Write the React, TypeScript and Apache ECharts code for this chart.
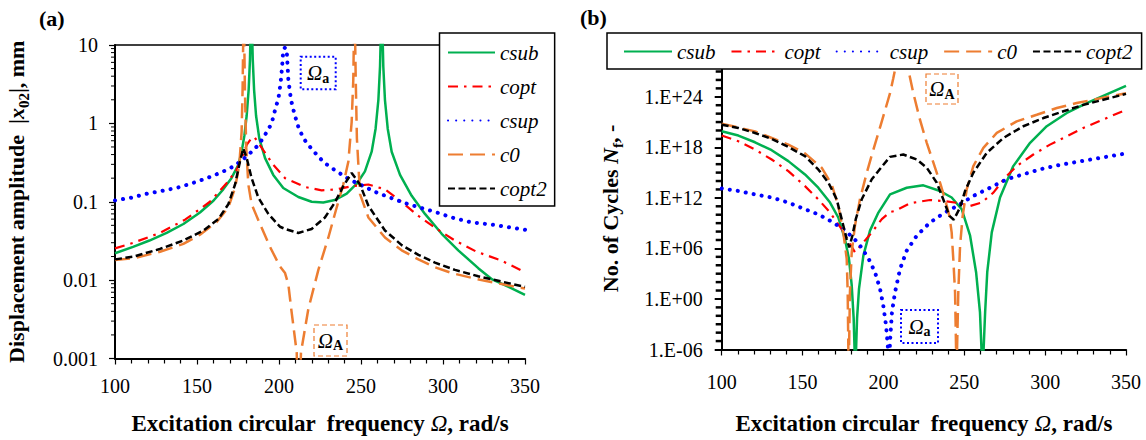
import React, { useEffect, useRef } from "react";
import * as echarts from "echarts";

// ---------- Panel (a): displacement amplitude |x02| (mm) vs Ω ----------
const csubA: [number, number][] = [
  [100, 0.022], [111, 0.0266], [121, 0.032], [131.5, 0.04], [141.7, 0.052], [151.8, 0.073],
  [160, 0.103], [166, 0.144], [171, 0.2], [175.2, 0.296], [177.2, 0.435], [178.9, 0.7],
  [180.3, 1.26], [181.5, 2.7], [182.3, 6.5], [183.1, 40], [184, 6.5], [184.8, 2.7], [186, 1.26],
  [188, 0.64], [191.5, 0.36], [196.5, 0.22], [202.6, 0.15], [211.8, 0.115], [219.9, 0.1],
  [227, 0.098], [234, 0.105], [241.3, 0.127], [247.4, 0.17], [252.4, 0.244], [256.5, 0.435],
  [258.9, 0.855], [260.6, 2.0], [261.6, 5.3], [262.6, 40], [263.6, 5.3], [264.6, 2.0],
  [266.3, 0.855], [268.7, 0.435], [273.8, 0.22], [280.9, 0.119], [289, 0.07], [299.2, 0.039],
  [309.3, 0.024], [321.5, 0.0142], [330, 0.0102], [340, 0.0082], [350, 0.0065],
];
const coptA: [number, number][] = [
  [100, 0.0254], [111.2, 0.03], [127.4, 0.04], [142.7, 0.059], [157.9, 0.1], [169.1, 0.183],
  [174.2, 0.257], [177.2, 0.36], [180.3, 0.53], [183.3, 0.65], [185, 0.67], [190.4, 0.457],
  [196.5, 0.296], [203.7, 0.2], [215.9, 0.154], [226, 0.14], [235.2, 0.144], [244.3, 0.158],
  [254.5, 0.166], [264.6, 0.144], [273.8, 0.103], [285, 0.066], [296.2, 0.045], [307.3, 0.032],
  [320.5, 0.023], [335, 0.018], [350, 0.0126],
];
const csupA: [number, number][] = [
  [100, 0.104], [110.2, 0.113], [120.3, 0.128], [130.5, 0.14], [139.6, 0.154], [149.8, 0.18],
  [159, 0.211], [168, 0.254], [173.2, 0.29], [180.9, 0.388], [187.8, 0.54], [193.1, 0.81],
  [195.5, 1.0], [198, 1.6], [199.6, 2.04], [201, 3.3], [201.9, 5.3], [202.6, 8.6], [203.7, 9.3],
  [204.7, 8.6], [205.7, 3.6], [207.3, 2.0], [209.4, 1.32], [211.8, 0.9], [214.8, 0.65],
  [217.9, 0.53], [224, 0.377], [228, 0.31], [235.2, 0.244], [243.3, 0.19], [249.4, 0.166],
  [258.5, 0.134], [267.7, 0.113], [276.8, 0.096], [287, 0.083], [296.2, 0.073], [305.3, 0.063],
  [316.5, 0.055], [333, 0.05], [350, 0.044],
];
const c0A: [number, number][] = [
  [100, 0.018], [111.2, 0.019], [127.4, 0.023], [141.7, 0.029], [151.8, 0.038], [162, 0.055],
  [169.1, 0.085], [173.2, 0.15], [175.8, 0.296], [177.2, 0.78], [177.8, 2.7], [178.5, 40],
  [179.2, 2.7], [180, 0.5], [181.3, 0.166], [183.3, 0.093], [188.4, 0.052], [194.5, 0.0266],
  [200.6, 0.0149], [203.7, 0.0123], [205.7, 0.0088], [207.7, 0.0039], [210.8, 0.0012],
  [212, 0.0001], [213.4, 0.0012], [217.9, 0.0043], [224, 0.0135], [230.1, 0.035], [235.2, 0.085],
  [239.2, 0.166], [242.3, 0.326], [244.3, 1.04], [245.3, 3.6], [246, 40], [246.8, 3.6],
  [247.5, 0.64], [249.4, 0.125], [254.5, 0.063], [264.6, 0.035], [274.8, 0.024], [285, 0.0184],
  [295.1, 0.0146], [305.3, 0.0123], [322.6, 0.0101], [350, 0.0078],
];
const copt2A: [number, number][] = [
  [100, 0.0184], [111.2, 0.0199], [127.4, 0.025], [141.7, 0.032], [153.9, 0.043], [163, 0.06],
  [169.1, 0.093], [173.2, 0.166], [176.2, 0.326], [178.2, 0.48], [180.3, 0.36], [183.3, 0.2],
  [187.4, 0.113], [193.5, 0.07], [200.6, 0.048], [203.7, 0.045], [211.8, 0.04], [219.9, 0.045],
  [228, 0.063], [234.1, 0.098], [239.2, 0.158], [244.3, 0.233], [249.4, 0.166], [254.5, 0.089],
  [264.6, 0.043], [274.8, 0.028], [285, 0.021], [295.1, 0.0167], [307.3, 0.0135], [321.5, 0.0112],
  [350, 0.0082],
];

// ---------- Panel (b): number of cycles N_f vs Ω ----------
const csubB: [number, number][] = [
  [100, 8e19], [110.3, 2.5e19], [120.6, 4e18], [130.9, 4.6e17], [141.2, 2.3e16], [151.5, 6e14],
  [159.7, 1.6e13], [167, 2.8e11], [172.1, 4.7e9], [176.2, 1.3e7], [178.7, 5.6e4], [180.4, 40],
  [181.6, 5e-3], [182.6, 1e-9], [183.7, 5e-3], [184.9, 16], [187.6, 1.4e5], [191.7, 1.3e8],
  [196.9, 1.8e10], [204.1, 2.6e12], [214.4, 1.6e13], [224.7, 3.1e13], [235, 6.5e12],
  [242.2, 1.1e12], [248.4, 4.5e10], [253.6, 3.2e7], [257.3, 1.5e3], [259.7, 2.8e-2],
  [261.3, 1e-9], [262.9, 2.8e-2], [264.2, 1.5e3], [267, 8e7], [272.1, 1.1e12], [280.3, 5.9e15],
  [290.7, 3.4e18], [301, 3.2e20], [313.4, 1.2e22], [325.7, 1.8e23], [350, 2e25],
];
const coptB: [number, number][] = [
  [100, 2.5e19], [110.3, 5.2e18], [120.6, 5.5e17], [130.9, 3.6e16], [141.2, 1.5e15],
  [151.5, 2.5e13], [159.7, 6.8e11], [167, 1.8e10], [174.2, 1.9e8], [178.3, 8.1e6], [182.4, 3.5e5],
  [187.6, 5.2e6], [192.8, 7.9e7], [199, 3e9], [204.1, 2.1e10], [207.2, 2.8e10], [216.5, 2.3e11],
  [228.8, 5.6e11], [238.1, 4e11], [247.4, 2.3e11], [253.6, 1.1e11], [260.8, 2.8e11],
  [268, 4.2e12], [275.2, 2.5e14], [282.4, 5.9e15], [292.7, 1.4e17], [303, 2.1e18], [313.4, 2e19],
  [323.6, 2e20], [350, 2.9e22],
];
const csupB: [number, number][] = [
  [100, 1.3e13], [110.3, 6.6e12], [120.6, 2.6e12], [130.9, 1.1e12], [141.2, 2.8e11],
  [150.5, 5.4e10], [159.7, 1.1e10], [169, 1.2e9], [177.3, 9.3e7], [184.5, 4.4e6], [190.7, 6.8e4],
  [194.8, 1.5e3], [197.9, 16], [199.9, 0.17], [201.6, 7.4e-4], [202.7, 3.2e-6], [203.5, 1e-8],
  [204.1, 1e-5], [205.3, 3e-2], [207.2, 6.5], [210.3, 3.7e3], [214.4, 5.4e5], [220.6, 3.2e7],
  [228.8, 1.2e9], [237, 1.4e10], [246.3, 1.3e11], [255.6, 1.7e12], [265.9, 1.6e13],
  [276.2, 1.6e14], [286.5, 6.2e14], [296.8, 2.4e15], [307.2, 7.1e15], [318.5, 1.7e16],
  [350, 1.9e17],
];
const c0B: [number, number][] = [
  [100, 6.5e20], [120.6, 7.9e19], [141.2, 2.1e18], [151.5, 1.9e17], [161.8, 3.8e15],
  [168, 4.1e13], [172.1, 1.1e11], [175.2, 7.9e7], [177.3, 5.6e4], [177.9, 6.5], [178.5, 1e-9],
  [179.3, 6.5], [180.4, 3.5e5], [182.4, 4.8e8], [185.5, 6.8e11], [189.7, 9.8e14], [193.8, 5.5e17],
  [199, 1.2e21], [204.1, 2.7e24], [206.1, 1.6e26], [211.3, 1e31], [215.4, 1.6e27],
  [218.5, 2.7e24], [222.6, 1.9e21], [226.8, 3.4e18], [230.9, 1.5e16], [235, 6.3e13],
  [238.1, 6.8e11], [240.8, 7.2e9], [242.2, 7.9e7], [243.2, 5.6e4], [244.3, 6.5], [245.2, 1e-9],
  [246.3, 6.5], [247.4, 2.1e6], [249, 7.2e9], [251.5, 1e13], [255.6, 5.9e15], [261.8, 8.7e17],
  [270.1, 5.1e19], [282.4, 1.2e21], [294.8, 7.4e21], [307.2, 4.6e22], [319.5, 1.8e23],
  [350, 2.7e24],
];
const copt2B: [number, number][] = [
  [100, 4.9e20], [110.3, 2e20], [120.6, 5.1e19], [130.9, 1e19], [141.2, 1.1e18], [151.5, 8.9e16],
  [159.7, 2.4e15], [166, 6.3e13], [171.1, 6.8e11], [174.2, 3e9], [177.3, 1.3e7], [178.9, 1.3e6],
  [180.8, 3.2e7], [182.9, 3e9], [186.6, 6.8e11], [192.8, 1.6e14], [199, 5e15], [204.1, 7.4e16],
  [212.3, 1.4e17], [220.6, 3.6e16], [226.8, 3.8e15], [233, 6.3e13], [237, 6.8e11],
  [240.8, 7.2e9], [243.5, 2.5e9], [247.4, 7.1e10], [250.5, 6.6e12], [255.6, 9.8e14],
  [263.9, 2.2e17], [274.2, 1.3e19], [286.5, 3.2e20], [298.9, 3e21], [311.3, 1.9e22],
  [323.6, 1.1e23], [350, 2.2e24],
];

const seriesNames = ["csub", "copt", "csup", "c0", "copt2"];
const xTicksStep = 50;

// minor tick positions of the log axes (axis structure, not data)
const minorTicksA: number[] = [];
for (let e = -3; e < 1; e++) for (let k = 2; k <= 9; k++) minorTicksA.push(k * Math.pow(10, e));
const minorTicksB: number[] = [];
for (let e = -5; e <= 27; e++) if (e % 6 !== 0) minorTicksB.push(Math.pow(10, e));

const FONT = "'Liberation Serif', 'Times New Roman', serif";

const styles: Record<string, any> = {
  csub: { color: "#00B050", width: 2.5, type: "solid" },
  copt: { color: "#FF0000", width: 2.2, type: [10, 6, 2.5, 6] },
  csup: { color: "#0000FF", width: 4, type: [0.1, 8], cap: "round" },
  c0: { color: "#ED7D31", width: 2.5, type: [15, 7] },
  copt2: { color: "#000000", width: 2.5, type: [7, 3.5] },
};

function lineSeries(name: string, data: [number, number][], idx: number) {
  const s = styles[name];
  return {
    name,
    type: "line",
    xAxisIndex: idx,
    yAxisIndex: idx,
    data,
    symbol: "none",
    showSymbol: false,
    clip: true,
    smooth: false,
    lineStyle: { color: s.color, width: s.width, type: s.type, cap: s.cap || "butt" },
    itemStyle: { color: s.color },
    emphasis: { disabled: true },
  };
}

function minorTickSeries(values: number[], idx: number, len: number, lw: number) {
  return {
    type: "custom",
    xAxisIndex: idx,
    yAxisIndex: idx,
    clip: false,
    silent: true,
    data: values.map((v) => [100, v]),
    renderItem: (_p: any, api: any) => {
      const pt = api.coord([100, api.value(1)]);
      return {
        type: "line",
        shape: { x1: pt[0] - len, y1: pt[1], x2: pt[0], y2: pt[1] },
        style: { stroke: "#000", lineWidth: lw },
      };
    },
  };
}

const axisLabelStyle = { fontFamily: FONT, fontSize: 20, color: "#000" };
const richName = {
  b: { fontFamily: FONT, fontWeight: "bold", fontSize: 22, color: "#000", lineHeight: 30 },
  i: { fontFamily: FONT, fontStyle: "italic", fontWeight: "bold", fontSize: 22, color: "#000", lineHeight: 30 },
  s: { fontFamily: FONT, fontWeight: "bold", fontSize: 15, color: "#000", lineHeight: 20, verticalAlign: "bottom" },
  o: { fontFamily: FONT, fontStyle: "italic", fontWeight: "normal", fontSize: 23, color: "#000", lineHeight: 30 },
  x: { fontFamily: FONT, fontWeight: "bold", fontSize: 23, color: "#000", lineHeight: 30 },
};

function xAxisOpt(grid: number, gap: number, labelMargin: number) {
  return {
    type: "value",
    gridIndex: grid,
    min: 100,
    max: 350,
    interval: xTicksStep,
    name: "{x|Excitation circular  frequency }{o|Ω}{x|, rad/s}",
    nameLocation: "middle",
    nameGap: gap,
    nameTextStyle: { rich: richName },
    axisLine: { show: true, onZero: false, lineStyle: { color: "#000", width: 2 } },
    axisTick: { show: true, inside: false, length: 6, lineStyle: { color: "#000", width: 1.2 } },
    minorTick: { show: true, splitNumber: 5, length: 5, lineStyle: { color: "#000", width: 1.2 } },
    axisLabel: { ...axisLabelStyle, margin: labelMargin },
    splitLine: { show: false },
  };
}

const legendCommon = {
  data: seriesNames,
  textStyle: { fontFamily: FONT, fontStyle: "italic", fontSize: 21, color: "#000", lineHeight: 20 },
  itemStyle: { opacity: 0 },
  borderColor: "#000",
  borderWidth: 1.5,
  backgroundColor: "#fff",
  selectedMode: false,
  itemHeight: 14,
};

function annotationBox(x: number, y: number, w: number, h: number, color: string, dash: number[], lw: number, sub: string) {
  return {
    type: "group",
    z: 100,
    children: [
      {
        type: "rect",
        shape: { x, y, width: w, height: h },
        style: { fill: "none", stroke: color, lineWidth: lw, lineDash: dash },
      },
      {
        type: "text",
        x: x + w / 2,
        y: y + h / 2,
        style: {
          text: "{o|Ω}{s|" + sub + "}",
          align: "center",
          verticalAlign: "middle",
          rich: {
            o: { fontFamily: FONT, fontStyle: "italic", fontSize: 21, fill: "#000", lineHeight: 24 },
            s: { fontFamily: FONT, fontWeight: "bold", fontSize: 14, fill: "#000", lineHeight: 18, verticalAlign: "bottom" },
          },
        },
      },
    ],
  };
}

const option: any = {
  animation: false,
  backgroundColor: "#fff",
  textStyle: { fontFamily: FONT },
  grid: [
    { left: 115, top: 45, width: 410, height: 318.3, containLabel: false },
    { left: 721.7, top: 67.5, width: 404.3, height: 283.5, containLabel: false },
  ],
  xAxis: [
    xAxisOpt(0, 50, 17),
    xAxisOpt(1, 59, 22),
    {
      type: "value",
      gridIndex: 0,
      position: "top",
      min: 100,
      max: 350,
      interval: xTicksStep,
      axisLine: { show: true, onZero: false, lineStyle: { color: "#000", width: 1.5 } },
      axisTick: { show: false },
      axisLabel: { show: false },
      splitLine: { show: false },
    },
  ],
  yAxis: [
    {
      type: "log",
      gridIndex: 0,
      logBase: 10,
      min: 0.001,
      max: 10,
      name: "{b|Displacement amplitude  |}{i|x}{s|02}{b||, mm}",
      nameLocation: "middle",
      nameGap: 84,
      nameTextStyle: { rich: richName },
      axisLine: { show: true, onZero: false, lineStyle: { color: "#000", width: 2 } },
      axisTick: { show: true, length: 6, lineStyle: { color: "#000", width: 1.2 } },
      axisLabel: {
        ...axisLabelStyle,
        margin: 17,
        formatter: (v: number) => String(Number(v.toPrecision(6))),
      },
      splitLine: { show: false },
    },
    {
      type: "log",
      gridIndex: 1,
      logBase: 1e6,
      min: 1e-6,
      max: 3e27,
      name: "{b|No. of Cycles }{i|N}{s|f}{b|, -}",
      nameLocation: "middle",
      nameGap: 96,
      nameTextStyle: { rich: richName },
      axisLine: { show: true, onZero: false, lineStyle: { color: "#000", width: 2 } },
      axisTick: { show: true, length: 7, lineStyle: { color: "#000", width: 2 } },
      axisLabel: {
        ...axisLabelStyle,
        margin: 19,
        showMaxLabel: false,
        formatter: (v: number) => {
          const e = Math.round(Math.log10(v));
          return "1.E" + (e < 0 ? "-" : "+") + String(Math.abs(e)).padStart(2, "0");
        },
      },
      splitLine: { show: false },
    },
  ],
  legend: [
    {
      ...legendCommon,
      orient: "vertical",
      left: 439.5,
      top: 33,
      itemWidth: 47,
      itemGap: 13,
      padding: [9, 8, 7, 7.5],
    },
    {
      ...legendCommon,
      orient: "horizontal",
      left: 607,
      top: 33,
      itemWidth: 48,
      itemGap: 15,
      padding: [8, 9, 7, 16],
    },
  ],
  series: [
    lineSeries("csub", csubA, 0),
    lineSeries("copt", coptA, 0),
    lineSeries("csup", csupA, 0),
    lineSeries("c0", c0A, 0),
    lineSeries("copt2", copt2A, 0),
    lineSeries("csub", csubB, 1),
    lineSeries("copt", coptB, 1),
    lineSeries("csup", csupB, 1),
    lineSeries("c0", c0B, 1),
    lineSeries("copt2", copt2B, 1),
    minorTickSeries(minorTicksA, 0, 4, 1),
    minorTickSeries(minorTicksB, 1, 6, 2.5),
  ],
  graphic: [
    {
      type: "text",
      left: 39,
      top: 7,
      style: { text: "(a)", fontFamily: FONT, fontWeight: "bold", fontSize: 22, fill: "#000" },
    },
    {
      type: "text",
      left: 580,
      top: 6,
      style: { text: "(b)", fontFamily: FONT, fontWeight: "bold", fontSize: 22, fill: "#000" },
    },
    annotationBox(300.7, 56.7, 35, 32.6, "#0000FF", [2, 2.5], 2, "a"),
    annotationBox(314, 325, 33, 31, "#ED7D31", [5, 3], 1.2, "A"),
    annotationBox(926, 74, 32, 30, "#ED7D31", [5, 3], 1.2, "A"),
    annotationBox(901, 310, 37, 33, "#0000FF", [2, 2.5], 2, "a"),
  ],
};

export default function App() {
  const ref = useRef<HTMLDivElement>(null);
  useEffect(() => {
    document.body.style.margin = "0";
    const chart = echarts.init(ref.current!, undefined, { renderer: "svg" });
    chart.setOption(option);
    return () => chart.dispose();
  }, []);
  return <div ref={ref} style={{ width: 1146, height: 440, overflow: "hidden" }} />;
}
